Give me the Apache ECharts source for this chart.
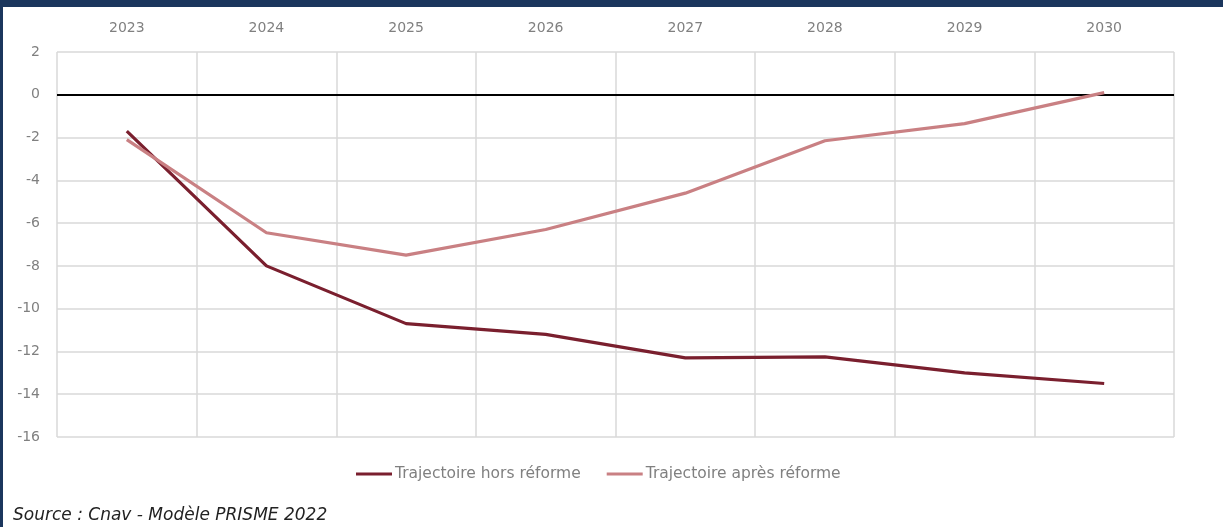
<!DOCTYPE html>
<html>
<head>
<meta charset="utf-8">
<script src="https://cdn.jsdelivr.net/npm/echarts@6/dist/echarts.min.js"></script>
<style>
  html, body { margin: 0; padding: 0; background: #fff; }
  #chart { width: 1223px; height: 527px; }
</style>
</head>
<body>
<div id="chart"></div>
<script>
const years = ['2023', '2024', '2025', '2026', '2027', '2028', '2029', '2030'];
const horsReforme = [-1.7, -8.0, -10.7, -11.2, -12.3, -12.25, -13.0, -13.5];
const apresReforme = [-2.1, -6.45, -7.5, -6.3, -4.6, -2.15, -1.35, 0.1];
const seriesNames = ['Trajectoire hors réforme', 'Trajectoire après réforme'];
const sourceText = 'Source : Cnav - Modèle PRISME 2022';

const chart = echarts.init(document.getElementById('chart'));
const font = '"DejaVu Sans", sans-serif';

const option = {
  animation: false,
  backgroundColor: '#fff',
  title: {
    text: sourceText,
    left: 8,
    top: 502,
    textStyle: { fontFamily: font, fontStyle: 'italic', fontWeight: 'normal', fontSize: 17, color: '#222' }
  },
  legend: {
    top: 461,
    left: 351,
    icon: 'rect',
    itemWidth: 36,
    itemHeight: 3,
    itemGap: 26,
    textStyle: { fontFamily: font, fontSize: 15.5, color: '#808080', padding: [0, 0, 0, -2] },
    data: seriesNames
  },
  grid: { left: 57, right: 49, top: 52, bottom: 90 },
  xAxis: {
    type: 'category',
    position: 'top',
    data: years,
    boundaryGap: true,
    axisLine: { show: false },
    axisTick: { show: false },
    axisLabel: { color: '#808080', fontFamily: font, fontSize: 14, margin: 17 },
    splitLine: { show: true, lineStyle: { color: '#d9d9d9', width: 1.5 } }
  },
  yAxis: {
    type: 'value',
    min: -16,
    max: 2,
    interval: 2,
    axisLine: { show: false },
    axisTick: { show: false },
    axisLabel: { color: '#808080', fontFamily: font, fontSize: 14, margin: 17 },
    splitLine: { lineStyle: { color: '#d9d9d9', width: 1.5 } }
  },
  graphic: [
    { type: 'rect', shape: { x: 0, y: 0, width: 1223, height: 7 }, style: { fill: '#1b365d' }, z: 100 },
    { type: 'rect', shape: { x: 0, y: 0, width: 3, height: 527 }, style: { fill: '#1b365d' }, z: 100 }
  ],
  series: [
    {
      name: seriesNames[0],
      type: 'line',
      data: horsReforme,
      symbol: 'none',
      color: '#7a1f2e',
      lineStyle: { width: 3.2, color: '#7a1f2e' },
      z: 3,
      markLine: {
        silent: true,
        symbol: 'none',
        label: { show: false },
        lineStyle: { color: '#000', width: 2, type: 'solid' },
        data: [{ yAxis: 0 }],
        z: 1
      }
    },
    {
      name: seriesNames[1],
      type: 'line',
      data: apresReforme,
      symbol: 'none',
      color: '#c98083',
      lineStyle: { width: 3.2, color: '#c98083' },
      z: 4
    }
  ]
};

chart.setOption(option);
</script>
</body>
</html>
